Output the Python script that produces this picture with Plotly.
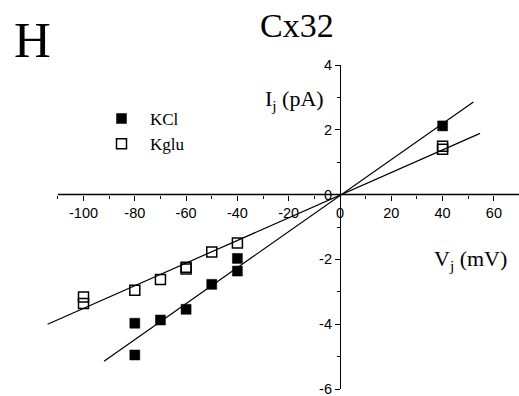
import plotly.graph_objects as go

# ---- data ----
kcl_v = [40, -40, -40, -50, -60, -70, -80, -80]
kcl_i = [2.12, -1.97, -2.36, -2.77, -3.54, -3.87, -3.97, -4.95]

kglu_v = [40, 40, -40, -50, -60, -60, -70, -80, -100, -100]
kglu_i = [1.49, 1.40, -1.49, -1.77, -2.24, -2.30, -2.62, -2.95, -3.16, -3.36]

# fitted lines (end points)
kcl_fit_v = [-92, 52]
kcl_fit_i = [-5.14, 2.86]
kglu_fit_v = [-114, 54.6]
kglu_fit_i = [-4.0, 1.89]

x_ticks = [-100, -80, -60, -40, -20, 0, 20, 40, 60]
y_ticks = [-6, -4, -2, 0, 2, 4]
x_axis_span = [-110, 70]   # extent of the drawn V axis
y_range = [-6, 4]

W, H = 519, 396
ml, mr, mt, mb = 0, 0, 65, 7
pw = W - ml - mr
ph = H - mt - mb
px_per_mv = 2.565
x0_px = 340          # pixel of V=0

x_range = [-(x0_px) / px_per_mv, (pw - x0_px) / px_per_mv]

fig = go.Figure()

fig.add_trace(go.Scatter(x=kcl_fit_v, y=kcl_fit_i, mode="lines",
                         line=dict(color="black", width=1.2),
                         showlegend=False, hoverinfo="skip"))
fig.add_trace(go.Scatter(x=kglu_fit_v, y=kglu_fit_i, mode="lines",
                         line=dict(color="black", width=1.2),
                         showlegend=False, hoverinfo="skip"))

fig.add_trace(go.Scatter(x=kcl_v, y=kcl_i, mode="markers", name="\u00a0\u00a0KCl",
                         legendgroup="a",
                         marker=dict(symbol="square", size=10, color="black",
                                     line=dict(color="black", width=0.5)),
                         cliponaxis=False))
fig.add_trace(go.Scatter(x=kglu_v, y=kglu_i, mode="markers", name="\u00a0\u00a0Kglu",
                         legendgroup="b",
                         marker=dict(symbol="square-open", size=10, color="black",
                                     line=dict(color="black", width=1.5)),
                         cliponaxis=False))

tickfont = dict(family="Liberation Sans, Arial, sans-serif", size=14.5, color="black")
serif = "Liberation Serif, Times New Roman, serif"

y0_frac = (0 - y_range[0]) / (y_range[1] - y_range[0])

fig.update_layout(
    width=W, height=H,
    margin=dict(l=ml, r=mr, t=mt, b=mb),
    paper_bgcolor="white", plot_bgcolor="white",
    xaxis=dict(domain=[0, 1], range=x_range, anchor="free",
               position=y0_frac, showline=False,
               ticks="outside", ticklen=5, tickwidth=1, tickcolor="black",
               tickvals=x_ticks, ticktext=[str(v) for v in x_ticks],
               minor=dict(tickvals=[v + 10 for v in x_ticks[:-1]] + [-110, 70],
                          ticks="outside", ticklen=3,
                          tickcolor="black", showgrid=False),
               ticklabeloverflow="allow",
               showgrid=False, zeroline=False, tickfont=tickfont),
    yaxis=dict(domain=[0, 1], range=y_range, anchor="free",
               position=x0_px / pw, showline=True, linecolor="black", linewidth=1.2,
               ticks="outside", ticklen=5, tickwidth=1, tickcolor="black",
               tickvals=y_ticks, ticktext=[str(v) for v in y_ticks],
               minor=dict(dtick=1, tick0=0, ticks="outside", ticklen=3,
                          tickcolor="black", showgrid=False),
               ticklabeloverflow="allow",
               showgrid=False, zeroline=False, tickfont=tickfont),
    legend=dict(x=101.5 / pw, y=(H - mb - 101) / ph, xanchor="left",
                yanchor="top", bgcolor="rgba(0,0,0,0)",
                font=dict(family=serif, size=17, color="black"),
                traceorder="grouped", tracegroupgap=0),
    showlegend=True,
)

# drawn V axis line along I = 0
fig.add_shape(type="line", xref="x", yref="y",
              x0=x_axis_span[0], x1=x_axis_span[1], y0=0, y1=0,
              line=dict(color="black", width=1.5), layer="above")

def px2paper(px, py):
    return px / pw, (H - mb - py) / ph

annots = [
    ("H", 32, 40, 51),
    ("Cx32", 297, 26, 34),
    ("I<sub>j</sub> (pA)", 294, 100, 22),
    ("V<sub>j</sub> (mV)", 470, 260, 22),
]
for txt, px, py, sz in annots:
    xx, yy = px2paper(px, py)
    fig.add_annotation(text=txt, x=xx, y=yy, xref="paper", yref="paper",
                       showarrow=False, xanchor="center", yanchor="middle",
                       font=dict(family=serif, size=sz, color="black"))

fig.write_html("out.html")
